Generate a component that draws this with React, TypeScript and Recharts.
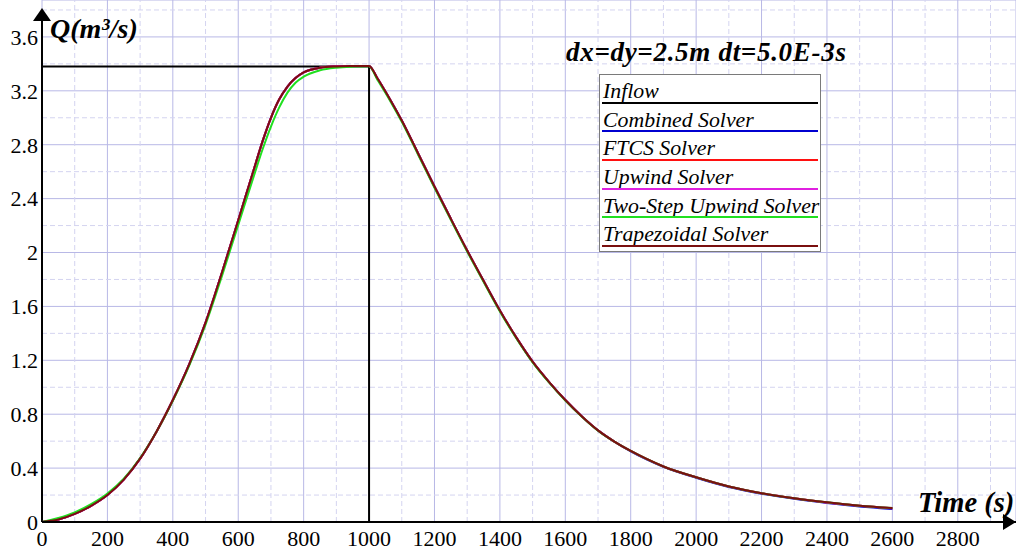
import React from 'react';
import {
  LineChart, Line, XAxis, YAxis, CartesianGrid, ReferenceLine, ReferenceDot, Legend,
} from 'recharts';

// ---- data ----
const times = [0, 50, 100, 150, 200, 250, 300, 350, 400, 450, 500, 550, 600, 650, 675, 700, 725, 750, 775, 800, 850, 900, 950, 1000,
  1025, 1050, 1075, 1100, 1150, 1200, 1250, 1300, 1350, 1400, 1450, 1500, 1550, 1600, 1650, 1700, 1750, 1800, 1850, 1900,
  2000, 2100, 2200, 2300, 2400, 2500, 2600];

const trapezoidal = [0, 0.018, 0.06, 0.12, 0.2, 0.315, 0.47, 0.67, 0.905, 1.17, 1.48, 1.85, 2.24, 2.635, 2.83, 3.0, 3.135, 3.23, 3.295, 3.337, 3.372, 3.381, 3.384, 3.385,
  3.295, 3.195, 3.09, 2.98, 2.735, 2.49, 2.25, 2.015, 1.79, 1.57, 1.37, 1.19, 1.04, 0.905, 0.785, 0.68, 0.597, 0.527, 0.466, 0.412,
  0.332, 0.264, 0.214, 0.176, 0.146, 0.121, 0.103];

const combined = [0, 0.018, 0.06, 0.12, 0.2, 0.315, 0.47, 0.67, 0.905, 1.17, 1.48, 1.85, 2.24, 2.635, 2.83, 3.0, 3.135, 3.23, 3.295, 3.337, 3.372, 3.381, 3.384, 3.385,
  3.295, 3.195, 3.09, 2.98, 2.735, 2.49, 2.25, 2.015, 1.79, 1.57, 1.37, 1.19, 1.04, 0.905, 0.785, 0.68, 0.596, 0.525, 0.463, 0.409,
  0.328, 0.26, 0.21, 0.172, 0.141, 0.115, 0.097];

const ftcs = [0, 0.018, 0.06, 0.12, 0.2, 0.315, 0.47, 0.67, 0.905, 1.17, 1.48, 1.85, 2.24, 2.635, 2.83, 3.0, 3.135, 3.23, 3.295, 3.337, 3.372, 3.381, 3.384, 3.385,
  3.295, 3.195, 3.09, 2.98, 2.735, 2.49, 2.25, 2.015, 1.79, 1.57, 1.37, 1.19, 1.04, 0.905, 0.785, 0.68, 0.597, 0.527, 0.466, 0.412,
  0.332, 0.264, 0.214, 0.176, 0.145, 0.12, 0.102];

const upwind = [0, 0.018, 0.06, 0.12, 0.2, 0.315, 0.47, 0.67, 0.905, 1.17, 1.48, 1.85, 2.24, 2.635, 2.83, 3.0, 3.135, 3.23, 3.295, 3.337, 3.372, 3.381, 3.384, 3.385,
  3.295, 3.195, 3.09, 2.98, 2.735, 2.49, 2.25, 2.015, 1.79, 1.57, 1.37, 1.19, 1.04, 0.905, 0.785, 0.68, 0.597, 0.527, 0.466, 0.412,
  0.332, 0.264, 0.214, 0.176, 0.145, 0.12, 0.102];

const twoStep = [0, 0.03, 0.072, 0.133, 0.212, 0.322, 0.475, 0.67, 0.9, 1.16, 1.465, 1.825, 2.205, 2.585, 2.77, 2.935, 3.075, 3.185, 3.26, 3.305, 3.352, 3.372, 3.38, 3.383,
  3.285, 3.185, 3.08, 2.97, 2.726, 2.481, 2.242, 2.007, 1.783, 1.563, 1.364, 1.185, 1.036, 0.902, 0.783, 0.678, 0.596, 0.527, 0.466, 0.412,
  0.332, 0.264, 0.214, 0.176, 0.146, 0.121, 0.103];

const inflowTimes = [0, 1000, 1000];
const inflowValues = [3.38, 3.38, 0];

const seriesNames = ['Inflow', 'Combined Solver', 'FTCS Solver', 'Upwind Solver', 'Two-Step Upwind Solver', 'Trapezoidal Solver'];

const xTicks = [0, 200, 400, 600, 800, 1000, 1200, 1400, 1600, 1800, 2000, 2200, 2400, 2600, 2800];
const yTicks = [0, 0.4, 0.8, 1.2, 1.6, 2, 2.4, 2.8, 3.2, 3.6];
const xMinor = [100, 300, 500, 700, 900, 1100, 1300, 1500, 1700, 1900, 2100, 2300, 2500, 2700, 2900];
const yMinor = [0.2, 0.6, 1.0, 1.4, 1.8, 2.2, 2.6, 3.0, 3.4, 3.8];

const titleText = 'dx=dy=2.5m dt=5.0E-3s';
const yTitle = 'Q(m³/s)';
const xTitle = 'Time (s)';

const data = times.map((t, i) => ({
  t,
  combined: combined[i],
  ftcs: ftcs[i],
  upwind: upwind[i],
  twoStep: twoStep[i],
  trap: trapezoidal[i],
}));
const inflowData = inflowTimes.map((t, i) => ({ t, q: inflowValues[i] }));

const SERIF = '"Liberation Serif", "Times New Roman", Times, serif';
const X_MAX = 2978;
const Y_MAX = 3.874;

const LegendBox = (props: any) => {
  const payload = [...(props.payload || [])].sort(
    (a: any, b: any) => seriesNames.indexOf(a.value) - seriesNames.indexOf(b.value),
  );
  return (
    <div style={{
      width: 222, height: 178, border: '1px solid #7a7a7a', background: '#fff',
      boxSizing: 'border-box',
    }}>
      {payload.map((p: any) => (
        <div key={p.value} style={{ position: 'relative', height: 28.7 }}>
          <div style={{
            position: 'absolute', left: 3, top: 4, fontFamily: SERIF, fontStyle: 'italic',
            fontSize: 21.8, lineHeight: '24px', color: '#000', whiteSpace: 'nowrap',
          }}>{p.value}</div>
          <div style={{ position: 'absolute', left: 2, right: 2, bottom: 0, height: 2, background: p.color }} />
        </div>
      ))}
    </div>
  );
};

const XTick = (p: any) => (
  <text x={p.x} y={p.y} dy="0.71em" textAnchor="middle" fontFamily={SERIF} fontSize={22} fill="#000">
    {p.payload.value}
  </text>
);
const YTick = (p: any) => (
  <text x={p.x} y={p.y} dy="0.355em" textAnchor="end" fontFamily={SERIF} fontSize={22} fill="#000">
    {p.payload.value}
  </text>
);

const upArrow = (p: any) => (
  <path d={`M${p.cx},${p.cy} l-9,13 l18,0 z`} fill="#000" />
);
const rightArrow = (p: any) => (
  <path d={`M${p.cx},${p.cy} l-13,-8 l0,16 z`} fill="#000" />
);

const titleStyle: React.CSSProperties = {
  position: 'absolute', fontFamily: SERIF, fontStyle: 'italic', fontWeight: 'bold', color: '#000', whiteSpace: 'nowrap',
};

export default function App() {
  return (
    <div style={{ position: 'absolute', left: 0, top: 0, width: 1016, height: 552, background: '#fff', overflow: 'hidden', fontFamily: SERIF }}>
      <LineChart width={1016} height={552} data={data} margin={{ top: 0, right: 0, bottom: 0, left: 0 }} style={{ fontFamily: SERIF }}>
        <CartesianGrid stroke="#b8b8e6" strokeWidth={1} />
        {xMinor.map((v) => (
          <ReferenceLine key={'xm' + v} x={v} stroke="#d4d4f0" strokeDasharray="5 3" strokeWidth={1} />
        ))}
        {yMinor.map((v) => (
          <ReferenceLine key={'ym' + v} y={v} stroke="#d4d4f0" strokeDasharray="5 3" strokeWidth={1} />
        ))}
        <XAxis
          dataKey="t" type="number" domain={[0, X_MAX]} ticks={xTicks} interval={0} allowDataOverflow
          height={30} tickLine={false} tickSize={0} tickMargin={8}
          axisLine={{ stroke: '#000', strokeWidth: 2 }}
          tick={<XTick />}
        />
        <YAxis
          type="number" domain={[0, Y_MAX]} ticks={yTicks} interval={0} allowDataOverflow
          width={42} tickLine={false} tickSize={0} tickMargin={4} axisLine={false}
          tick={<YTick />}
        />
        <ReferenceLine segment={[{ x: 0, y: 0 }, { x: 0, y: 3.74 }]} stroke="#000" strokeWidth={2} ifOverflow="visible" />
        <ReferenceDot x={0} y={3.814} r={1} shape={upArrow} ifOverflow="visible" />
        <ReferenceDot x={X_MAX} y={0} r={1} shape={rightArrow} ifOverflow="visible" />
        <Line data={inflowData} dataKey="q" name={seriesNames[0]} type="linear" stroke="#000000" strokeWidth={2} dot={false} activeDot={false} isAnimationActive={false} />
        <Line dataKey="combined" name={seriesNames[1]} type="monotone" stroke="#0000d0" strokeWidth={2} dot={false} activeDot={false} isAnimationActive={false} />
        <Line dataKey="ftcs" name={seriesNames[2]} type="monotone" stroke="#ff1010" strokeWidth={2} dot={false} activeDot={false} isAnimationActive={false} />
        <Line dataKey="upwind" name={seriesNames[3]} type="monotone" stroke="#e020e0" strokeWidth={2} dot={false} activeDot={false} isAnimationActive={false} />
        <Line dataKey="twoStep" name={seriesNames[4]} type="monotone" stroke="#20e020" strokeWidth={2} dot={false} activeDot={false} isAnimationActive={false} />
        <Line dataKey="trap" name={seriesNames[5]} type="monotone" stroke="#7a0f0f" strokeWidth={2} dot={false} activeDot={false} isAnimationActive={false} />
        <Legend
          layout="vertical" align="center" verticalAlign="middle"
          itemSorter={null as any}
          content={<LegendBox />}
          wrapperStyle={{ position: 'absolute', left: 599, top: 74, width: 222, height: 178 }}
        />
      </LineChart>
      <div style={{ ...titleStyle, left: 50, top: 12, fontSize: 28, lineHeight: '34px' }}>{yTitle}</div>
      <div style={{ ...titleStyle, left: 918, top: 486, fontSize: 28.5, lineHeight: '34px' }}>{xTitle}</div>
      <div style={{ ...titleStyle, left: 566, top: 35, fontSize: 27, lineHeight: '34px', letterSpacing: '0.7px' }}>{titleText}</div>
    </div>
  );
}
